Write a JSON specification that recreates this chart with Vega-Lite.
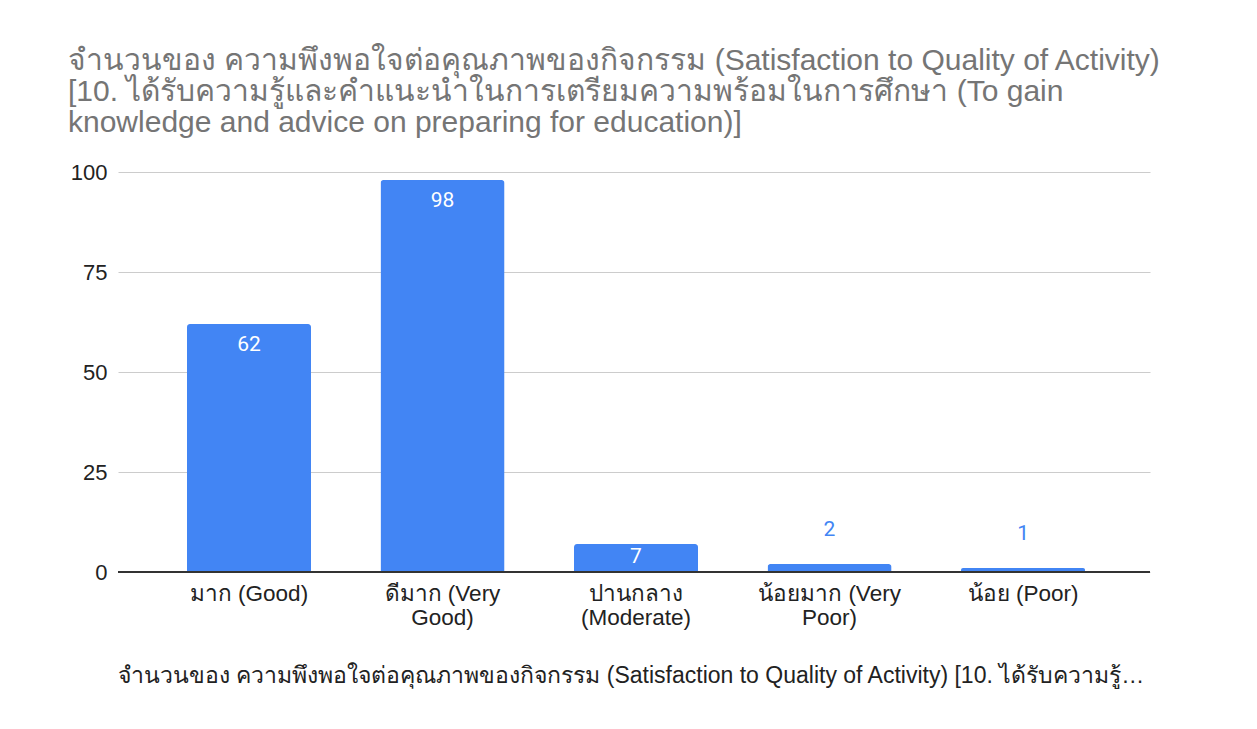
{
  "$schema": "https://vega.github.io/schema/vega-lite/v6.json",
  "width": 1032,
  "height": 400,
  "autosize": {"type": "none"},
  "padding": {"left": 118, "top": 172, "right": 107, "bottom": 157},
  "background": "white",
  "title": {
    "text": [
      "จำนวนของ ความพึงพอใจต่อคุณภาพของกิจกรรม (Satisfaction to Quality of Activity)",
      "[10. ได้รับความรู้และคำแนะนำในการเตรียมความพร้อมในการศึกษา (To gain",
      "knowledge and advice on preparing for education)]"
    ],
    "anchor": "start",
    "frame": "group",
    "dx": -50,
    "offset": 23,
    "font": "Liberation Sans",
    "fontSize": 30,
    "fontWeight": "normal",
    "color": "#757575",
    "lineHeight": 31
  },
  "data": {
    "values": [
      {"category": "มาก (Good)", "count": 62, "series": "จำนวนของ ความพึงพอใจต่อคุณภาพของกิจกรรม (Satisfaction to Quality of Activity) [10. ได้รับความรู้และคำแนะนำในการเตรียมความพร้อมในการศึกษา (To gain knowledge and advice on preparing for education)]"},
      {"category": "ดีมาก (Very Good)", "count": 98, "series": "จำนวนของ ความพึงพอใจต่อคุณภาพของกิจกรรม (Satisfaction to Quality of Activity) [10. ได้รับความรู้และคำแนะนำในการเตรียมความพร้อมในการศึกษา (To gain knowledge and advice on preparing for education)]"},
      {"category": "ปานกลาง (Moderate)", "count": 7, "series": "จำนวนของ ความพึงพอใจต่อคุณภาพของกิจกรรม (Satisfaction to Quality of Activity) [10. ได้รับความรู้และคำแนะนำในการเตรียมความพร้อมในการศึกษา (To gain knowledge and advice on preparing for education)]"},
      {"category": "น้อยมาก (Very Poor)", "count": 2, "series": "จำนวนของ ความพึงพอใจต่อคุณภาพของกิจกรรม (Satisfaction to Quality of Activity) [10. ได้รับความรู้และคำแนะนำในการเตรียมความพร้อมในการศึกษา (To gain knowledge and advice on preparing for education)]"},
      {"category": "น้อย (Poor)", "count": 1, "series": "จำนวนของ ความพึงพอใจต่อคุณภาพของกิจกรรม (Satisfaction to Quality of Activity) [10. ได้รับความรู้และคำแนะนำในการเตรียมความพร้อมในการศึกษา (To gain knowledge and advice on preparing for education)]"}
    ]
  },
  "encoding": {
    "x": {
      "field": "category",
      "type": "nominal",
      "sort": null,
      "scale": {"paddingInner": 0.359, "paddingOuter": 0.346, "align": 0.515},
      "axis": {
        "title": null,
        "labelAngle": 0,
        "labelFont": "Liberation Sans",
        "labelFontSize": 22.5,
        "labelColor": "#222222",
        "labelPadding": 10,
        "labelLineHeight": 24,
        "labelBaseline": "top",
        "labelLimit": 300,
        "ticks": false,
        "domain": false,
        "grid": false,
        "labelExpr": "indexof(datum.label, 'Very') >= 0 ? [slice(datum.label, 0, lastindexof(datum.label, ' ')), slice(datum.label, lastindexof(datum.label, ' ') + 1)] : indexof(datum.label, 'Moderate') >= 0 ? split(datum.label, ' ') : datum.label"
      }
    },
    "y": {
      "field": "count",
      "type": "quantitative",
      "scale": {"domain": [0, 100]},
      "axis": {
        "title": null,
        "values": [0, 25, 50, 75, 100],
        "labelFont": "Liberation Sans",
        "labelFontSize": 22,
        "labelColor": "#222222",
        "labelPadding": 11,
        "ticks": false,
        "domain": false,
        "gridColor": "#cccccc",
        "gridWidth": 1
      }
    }
  },
  "layer": [
    {
      "mark": {"type": "bar", "cornerRadiusTopLeft": 3, "cornerRadiusTopRight": 3},
      "encoding": {
        "color": {
          "field": "series",
          "type": "nominal",
          "scale": {"range": ["#4285f4"]},
          "legend": {
            "title": null,
            "orient": "none",
            "legendX": -23,
            "legendY": 492,
            "padding": 0,
            "symbolSize": 0,
            "symbolOpacity": 0,
            "symbolStrokeWidth": 0,
            "labelOffset": 0,
            "labelFont": "Liberation Sans",
            "labelFontSize": 23,
            "labelColor": "#222222",
            "labelLimit": 1030,
            "labelBaseline": "middle"
          }
        }
      }
    },
    {
      "mark": {"type": "rule", "color": "#333333", "strokeWidth": 2},
      "encoding": {"y": {"datum": 0}, "x": null}
    },
    {
      "transform": [{"filter": "datum.count >= 20"}],
      "mark": {"type": "text", "font": "Roboto", "fontSize": 21, "color": "white", "baseline": "middle", "dy": 21},
      "encoding": {"text": {"field": "count", "type": "quantitative"}}
    },
    {
      "transform": [{"filter": "datum.count >= 5 && datum.count < 20"}],
      "mark": {"type": "text", "font": "Roboto", "fontSize": 21, "color": "white", "baseline": "middle", "dy": 13},
      "encoding": {"text": {"field": "count", "type": "quantitative"}}
    },
    {
      "transform": [{"filter": "datum.count < 5"}],
      "mark": {"type": "text", "font": "Roboto", "fontSize": 21, "color": "#4285f4", "baseline": "middle", "dy": -34},
      "encoding": {"text": {"field": "count", "type": "quantitative"}}
    }
  ],
  "config": {"view": {"stroke": null}}
}
